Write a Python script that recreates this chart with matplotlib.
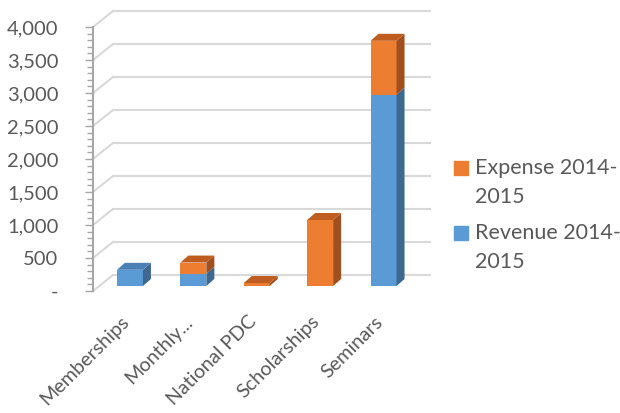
import matplotlib
matplotlib.use('Agg')
import matplotlib.pyplot as plt
from matplotlib.patches import Polygon, Rectangle
from matplotlib.ticker import MultipleLocator, FuncFormatter
from matplotlib.transforms import offset_copy

categories = ['Memberships', 'Monthly...', 'National PDC', 'Scholarships', 'Seminars']
revenue = [245, 185, 0, 0, 2900]
expense = [0, 170, 45, 1000, 815]
series = ['Revenue 2014-2015', 'Expense 2014-2015']

# front / top / side colours
blue = ['#5b9bd5', '#4a80b6', '#3d6890']
orange = ['#ed7d31', '#bf5d20', '#a0501e']
grey_text = '#595959'
grid_col = '#d9d9d9'

plt.rcParams['font.family'] = ['Lato', 'DejaVu Sans']

W, H = 620, 413
fig = plt.figure(figsize=(W / 100, H / 100), dpi=100)
ax = fig.add_axes([93 / W, (H - 291) / H, (410 - 93) / W, 264 / H])
ax.set_xlim(-0.48, 4.52)
ax.set_ylim(0, 4000)


def px(dx, dy):
    # pixel offset -> data offset
    x0, y0 = ax.transData.transform((0, 0))
    return ax.transData.inverted().transform((x0 + dx, y0 + dy))


bdx, bdy = px(20, 16)     # back wall
ox, oy = px(6.5, 5)       # bar front plane
ddx, ddy = px(8, 7)       # bar depth
bw = px(26, 0)[0]

# side wall diagonals + back wall gridlines
x0, x1 = ax.get_xlim()
for v in range(0, 4001, 500):
    ax.plot([x0, x0 + bdx], [v, v + bdy], color=grid_col, lw=1.5, clip_on=False, zorder=0)
    ax.plot([x0 + bdx, x1 + bdx], [v + bdy, v + bdy], color=grid_col, lw=1.5,
            clip_on=False, zorder=0)

for i in range(len(categories)):
    base = oy
    segs = [(revenue[i], blue), (expense[i], orange)]
    segs = [s for s in segs if s[0] > 0]
    for k, (h, cols) in enumerate(segs):
        xl = i + ox - bw / 2
        xr = xl + bw
        ax.bar(i + ox, h, bottom=base, width=bw, color=cols[0], zorder=2)
        side = [(xr, base), (xr + ddx, base + ddy), (xr + ddx, base + h + ddy), (xr, base + h)]
        ax.add_patch(Polygon(side, closed=True, color=cols[2], lw=0, zorder=2))
        if k == len(segs) - 1:
            t = base + h
            top = [(xl, t), (xr, t), (xr + ddx, t + ddy), (xl + ddx, t + ddy)]
            ax.add_patch(Polygon(top, closed=True, color=cols[1], lw=0, zorder=2))
        base += h

# category labels
lab_tr = offset_copy(ax.transData, fig=fig, x=-3, y=-22, units='dots')
for i, name in enumerate(categories):
    ax.text(i, 0, name, transform=lab_tr, rotation=45, ha='right', va='top',
            rotation_mode='anchor', fontsize=14.2, color=grey_text)

# value axis
ax.yaxis.set_major_locator(MultipleLocator(500))
ax.yaxis.set_minor_locator(MultipleLocator(100))
ax.yaxis.set_major_formatter(FuncFormatter(lambda v, p: '-' if v == 0 else f'{v:,.0f}'))
ax.tick_params(axis='y', which='major', length=6, width=1, color='#a6a6a6',
               labelsize=14.5, labelcolor=grey_text, pad=19)
ax.tick_params(axis='y', which='minor', length=4, width=1, color='#a6a6a6')
ax.set_xticks([])
for s in ['top', 'right', 'bottom']:
    ax.spines[s].set_visible(False)
ax.spines['left'].set_color('#a6a6a6')
ax.spines['left'].set_linewidth(1.5)
ax.patch.set_visible(False)

# legend (expense listed first, as in the original)
for j, (name, col) in enumerate([(series[1], orange[0]), (series[0], blue[0])]):
    yc = 168 + j * 65
    fig.add_artist(Rectangle((454 / W, (H - yc - 7) / H), 14 / W, 14 / H,
                             transform=fig.transFigure, color=col))
    head, dash, tail = name.partition('-')
    fig.text(475 / W, (H - yc) / H, head + dash, va='center', fontsize=15.5, color=grey_text)
    fig.text(475 / W, (H - yc - 29) / H, tail, va='center', fontsize=15.5, color=grey_text)

fig.savefig('out.png', dpi=100)
